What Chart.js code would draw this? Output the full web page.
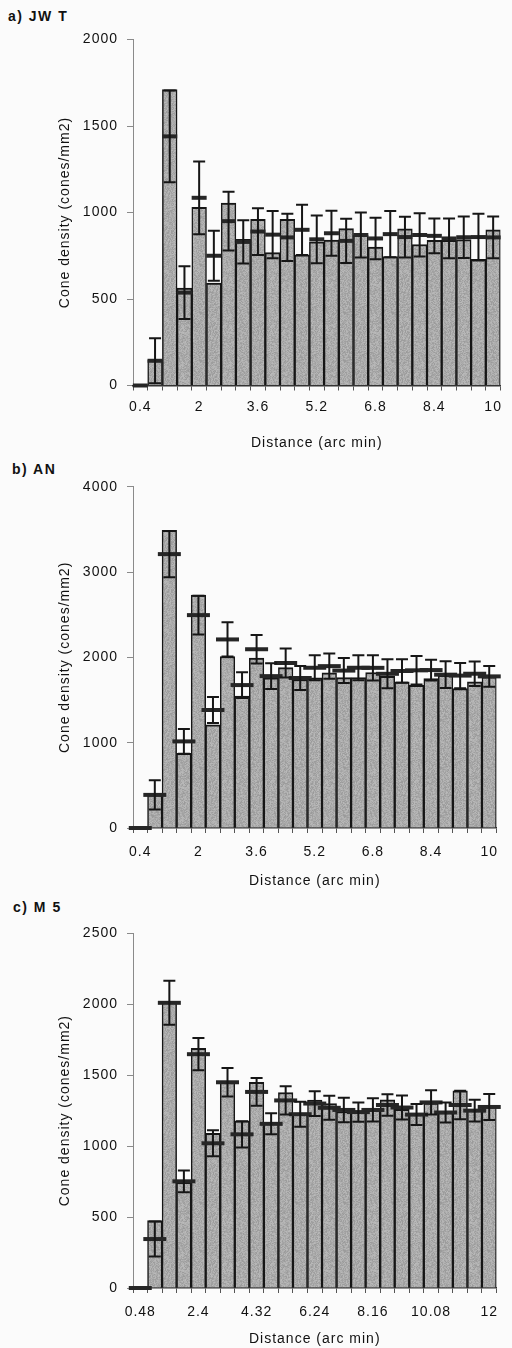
<!DOCTYPE html>
<html>
<head>
<meta charset="utf-8">
<script src="https://cdn.jsdelivr.net/npm/chart.js@4.4.1/dist/chart.umd.min.js"></script>
<style>
  html, body { margin: 0; padding: 0; background: #fbfbfb; }
  #hoja { position: relative; width: 512px; height: 1348px; overflow: hidden; }
  .panel { position: absolute; left: 0; }
  .etiqueta {
    position: absolute;
    font: bold 14px "Liberation Sans", Arial, sans-serif;
    line-height: 16px;
    letter-spacing: 1.5px;
    color: #111;
  }
</style>
</head>
<body>
<div id="hoja">
  <div class="etiqueta" style="left:8px; top:8px">a) JW T</div>
  <canvas class="panel" id="grafA" width="512" height="455" style="top:0"></canvas>

  <div class="etiqueta" style="left:12px; top:461px">b) AN</div>
  <canvas class="panel" id="grafB" width="512" height="435" style="top:455px"></canvas>

  <div class="etiqueta" style="left:13px; top:899px">c) M 5</div>
  <canvas class="panel" id="grafC" width="512" height="458" style="top:890px"></canvas>
</div>

<script>
// Distancias (arc min), 25 intervalos por panel
const distAB = ['0.4', '0.8', '1.2', '1.6', '2', '2.4', '2.8', '3.2', '3.6', '4', '4.4', '4.8', '5.2',
                '5.6', '6', '6.4', '6.8', '7.2', '7.6', '8', '8.4', '8.8', '9.2', '9.6', '10'];
const distC = ['0.48', '0.96', '1.44', '1.92', '2.4', '2.88', '3.36', '3.84', '4.32', '4.8', '5.28', '5.76', '6.24',
               '6.72', '7.2', '7.68', '8.16', '8.64', '9.12', '9.6', '10.08', '10.56', '11.04', '11.52', '12'];

// a) JW T
const barrasA = [0, 148, 1710, 563, 1030, 592, 1055, 845, 960, 768, 960, 755, 830,
                 840, 907, 870, 800, 745, 905, 815, 839, 839, 843, 730, 900];
const mediasA = [0, 143, 1440, 537, 1085, 750, 950, 830, 890, 872, 856, 900, 845,
                 880, 836, 870, 850, 875, 858, 870, 865, 850, 857, 858, 856];
const errA = [0, 130, 265, 152, 210, 145, 170, 125, 135, 136, 137, 145, 138,
              130, 128, 130, 120, 133, 118, 125, 100, 115, 120, 135, 121];

// b) AN
const barrasB = [0, 390, 3490, 875, 2730, 1210, 2010, 1545, 1990, 1760, 1880, 1740, 1760,
                 1820, 1763, 1763, 1822, 1779, 1713, 1673, 1752, 1790, 1634, 1713, 1771];
const mediasB = [0, 388, 3210, 1015, 2495, 1383, 2210, 1675, 2095, 1780, 1934, 1758, 1878,
                 1897, 1845, 1878, 1877, 1807, 1840, 1848, 1851, 1797, 1786, 1808, 1777];
const errB = [0, 172, 270, 146, 226, 152, 200, 150, 167, 150, 170, 140, 147,
              147, 147, 147, 147, 170, 137, 167, 121, 156, 147, 143, 121];

// c) M 5
const barrasC = [0, 475, 2015, 745, 1690, 1090, 1455, 1178, 1450, 1165, 1378, 1230, 1325,
                 1300, 1244, 1244, 1255, 1326, 1260, 1232, 1303, 1237, 1390, 1255, 1280];
const mediasC = [0, 345, 2010, 752, 1648, 1020, 1450, 1083, 1382, 1157, 1322, 1225, 1300,
                 1270, 1255, 1240, 1255, 1290, 1272, 1222, 1308, 1237, 1290, 1250, 1276];
const errC = [0, 123, 155, 77, 114, 92, 100, 93, 98, 74, 100, 88, 87,
              85, 86, 68, 82, 76, 85, 74, 86, 70, 100, 76, 92];

const FUENTE = '"Liberation Sans", Arial, sans-serif';
const TINTA = '#111';

// Gris moteado para el relleno de las barras (ruido fijo por hash, siempre igual)
function texturaGris() {
    const lado = 48;
    const c = document.createElement('canvas');
    c.width = c.height = lado;
    const g = c.getContext('2d');
    const img = g.createImageData(lado, lado);
    for (let i = 0; i < lado * lado; i++) {
        const h = Math.sin(i * 12.9898 + 78.233) * 43758.5453;
        const r = h - Math.floor(h);
        const v = Math.round(154 + r * 32);
        img.data[i * 4] = img.data[i * 4 + 1] = img.data[i * 4 + 2] = v;
        img.data[i * 4 + 3] = 255;
    }
    g.putImageData(img, 0, 0);
    return g.createPattern(c, 'repeat');
}

// Barras de error alrededor de cada media (se dibujan encima de todo)
const barrasError = {
    id: 'barrasError',
    beforeDraw(chart) {
        chart.ctx.letterSpacing = '1px';
    },
    afterDatasetsDraw(chart) {
        const { ctx, scales: { x, y } } = chart;
        const ds = chart.data.datasets[1];
        ctx.save();
        ctx.strokeStyle = '#161616';
        ctx.lineWidth = 2;
        ds.data.forEach((m, i) => {
            const e = ds.errores[i];
            if (!e) return;
            const px = x.getPixelForValue(i);
            const yArr = y.getPixelForValue(m + e);
            const yAb = y.getPixelForValue(m - e);
            ctx.beginPath();
            ctx.moveTo(px, yArr); ctx.lineTo(px, yAb);
            ctx.moveTo(px - 6, yArr); ctx.lineTo(px + 6, yArr);
            ctx.moveTo(px - 6, yAb); ctx.lineTo(px + 6, yAb);
            ctx.stroke();
        });
        ctx.restore();
    }
};

function crearPanel(id, p) {
    const ctx = document.getElementById(id).getContext('2d');
    return new Chart(ctx, {
        type: 'bar',
        data: {
            labels: p.etiquetas,
            datasets: [
                {
                    data: p.barras,
                    backgroundColor: texturaGris(),
                    borderColor: '#161616',
                    borderWidth: { top: 2, left: 1.5, right: 1.5, bottom: 0 },
                    barPercentage: 1,
                    categoryPercentage: 1,
                    order: 2
                },
                {
                    type: 'line',
                    data: p.medias,
                    errores: p.errores,
                    showLine: false,
                    pointStyle: 'line',
                    pointRadius: p.anchoMedia,
                    pointHoverRadius: p.anchoMedia,
                    pointBorderWidth: 4,
                    pointBorderColor: '#262626',
                    clip: false,
                    order: 1
                }
            ]
        },
        options: {
            responsive: false,
            animation: false,
            events: [],
            layout: { padding: { top: p.arriba, right: p.derecha, left: 0, bottom: 0 } },
            plugins: { legend: { display: false }, tooltip: { enabled: false } },
            scales: {
                x: {
                    offset: true,
                    grid: { offset: true, drawOnChartArea: false, tickLength: 5, color: '#555', lineWidth: 1 },
                    border: { display: true, color: '#333', width: 1.5 },
                    ticks: {
                        autoSkip: false,
                        maxRotation: 0,
                        padding: p.padX,
                        color: TINTA,
                        font: { family: FUENTE, size: 14 },
                        callback: (v, i) => (i % 4 === 0 ? p.etiquetas[i] : '')
                    },
                    title: {
                        display: true,
                        text: 'Distance (arc min)',
                        color: TINTA,
                        font: { family: FUENTE, size: 14 },
                        padding: { top: 0, bottom: p.padTitulo }
                    },
                    afterFit: s => { s.height = p.altoX; }
                },
                y: {
                    min: 0,
                    max: p.max,
                    ticks: {
                        stepSize: p.paso,
                        padding: 9,
                        color: TINTA,
                        font: { family: FUENTE, size: 14 },
                        callback: v => String(v)
                    },
                    grid: { drawOnChartArea: false, tickLength: 6, color: '#8a8a8a' },
                    border: { display: true, color: '#8a8a8a', width: 1 },
                    title: {
                        display: true,
                        text: 'Cone density (cones/mm2)',
                        color: TINTA,
                        font: { family: FUENTE, size: 14 },
                        padding: { top: 57, bottom: 0 }
                    },
                    afterFit: s => { s.width = 133; }
                }
            }
        },
        plugins: [barrasError]
    });
}

crearPanel('grafA', {
    etiquetas: distAB, barras: barrasA, medias: mediasA, errores: errA,
    max: 2000, paso: 500, anchoMedia: 7.5,
    arriba: 39.5, derecha: 7, altoX: 69.5, padX: 8, padTitulo: 3.6
});

crearPanel('grafB', {
    etiquetas: distAB, barras: barrasB, medias: mediasB, errores: errB,
    max: 4000, paso: 1000, anchoMedia: 11.5,
    arriba: 31.7, derecha: 5, altoX: 62, padX: 10.9, padTitulo: 0
});

crearPanel('grafC', {
    etiquetas: distC, barras: barrasC, medias: mediasC, errores: errC,
    max: 2500, paso: 500, anchoMedia: 11.5,
    arriba: 43.3, derecha: 0, altoX: 60, padX: 10.3, padTitulo: 0
});
</script>
</body>
</html>
